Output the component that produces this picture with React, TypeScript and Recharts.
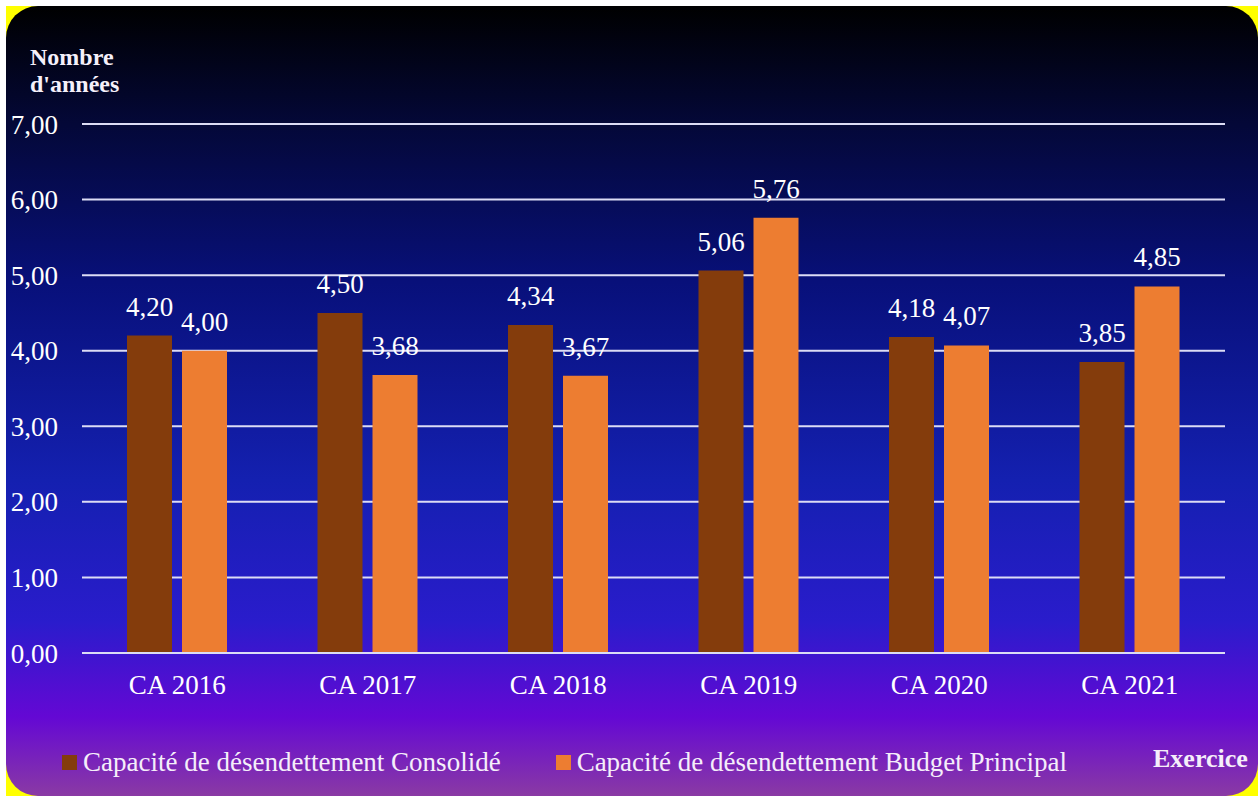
import React from 'react';
import { BarChart, Bar, XAxis, YAxis, CartesianGrid, Legend, LabelList } from 'recharts';

const categories = ['CA 2016', 'CA 2017', 'CA 2018', 'CA 2019', 'CA 2020', 'CA 2021'];
const consolide = [4.2, 4.5, 4.34, 5.06, 4.18, 3.85];
const budgetPrincipal = [4.0, 3.68, 3.67, 5.76, 4.07, 4.85];
const yTicks = [0, 1, 2, 3, 4, 5, 6, 7];
const seriesOrder = ['consolide', 'budget'];

const data = categories.map((name, i) => ({
  name,
  consolide: consolide[i],
  budget: budgetPrincipal[i],
}));

const FONT = '"Liberation Serif", "Times New Roman", serif';
const fmt = (v: number) => v.toFixed(2).replace('.', ',');

const renderLegend = (props: any) => {
  const payload = [...(props.payload || [])].sort(
    (a: any, b: any) => seriesOrder.indexOf(a.dataKey) - seriesOrder.indexOf(b.dataKey)
  );
  return (
    <div style={{ display: 'flex', alignItems: 'center', fontFamily: FONT, whiteSpace: 'nowrap' }}>
      {payload.map((entry: any) => (
        <div key={entry.value} style={{ display: 'flex', alignItems: 'center', marginRight: 55 }}>
          <span style={{ width: 15, height: 15, background: entry.color, marginRight: 6, display: 'inline-block' }} />
          <span style={{ fontSize: 27, color: '#f5eefa' }}>{entry.value}</span>
        </div>
      ))}
    </div>
  );
};

export default function App() {
  return (
    <div style={{ position: 'absolute', left: 0, top: 0, width: 1258, height: 796, background: '#ffffff' }}>
      <div style={{ position: 'absolute', left: 6, top: 6, width: 1252, height: 790, background: '#ffff00' }}>
        <div
          style={{
            position: 'absolute',
            left: 0,
            top: 0,
            width: 1252,
            height: 790,
            borderRadius: 32,
            overflow: 'hidden',
            background:
              'linear-gradient(to bottom, #000000 0%, #040838 15%, #08107a 35%, #1420b0 60%, #2a1ccc 78%, #6408d4 90%, #8a3aa4 100%)',
          }}
        >
          <div style={{ position: 'absolute', left: 24, top: 38, fontFamily: FONT, fontWeight: 'bold', fontSize: 24, lineHeight: '27px', color: '#f5f0fa' }}>
            Nombre
            <br />
            d'années
          </div>
          <div style={{ position: 'absolute', left: 1147, top: 738, fontFamily: FONT, fontWeight: 'bold', fontSize: 26, color: '#f5eefa' }}>
            Exercice
          </div>
          <BarChart
            width={1252}
            height={790}
            data={data}
            margin={{ top: 118, right: 33, left: 0, bottom: 103 }}
            barSize={45}
            barGap={10}
          >
            <CartesianGrid vertical={false} stroke="#dcdcf5" strokeWidth={2} />
            <XAxis
              dataKey="name"
              height={40}
              axisLine={{ stroke: '#dcdcf5', strokeWidth: 2 }}
              tickLine={false}
              tickSize={0}
              tickMargin={22}
              tick={{ fill: '#ffffff', fontSize: 27, fontFamily: FONT }}
            />
            <YAxis
              width={76}
              domain={[0, 7]}
              ticks={yTicks}
              interval={0}
              axisLine={false}
              tickLine={false}
              tickSize={0}
              tickMargin={24}
              tickFormatter={fmt}
              tick={{ fill: '#ffffff', fontSize: 27, fontFamily: FONT }}
            />
            <Legend
              layout="horizontal"
              verticalAlign="middle"
              align="center"
              wrapperStyle={{ left: 56, top: 741, width: 'auto' }}
              content={renderLegend}
            />
            <Bar dataKey="consolide" name="Capacité de désendettement Consolidé" fill="#843C0C" isAnimationActive={false}>
              <LabelList dataKey="consolide" position="top" offset={20} formatter={(v: any) => fmt(Number(v))} style={{ fill: '#ffffff', fontSize: 27, fontFamily: FONT }} />
            </Bar>
            <Bar dataKey="budget" name="Capacité de désendettement Budget Principal" fill="#ED7D31" isAnimationActive={false}>
              <LabelList dataKey="budget" position="top" offset={20} formatter={(v: any) => fmt(Number(v))} style={{ fill: '#ffffff', fontSize: 27, fontFamily: FONT }} />
            </Bar>
          </BarChart>
        </div>
      </div>
    </div>
  );
}
